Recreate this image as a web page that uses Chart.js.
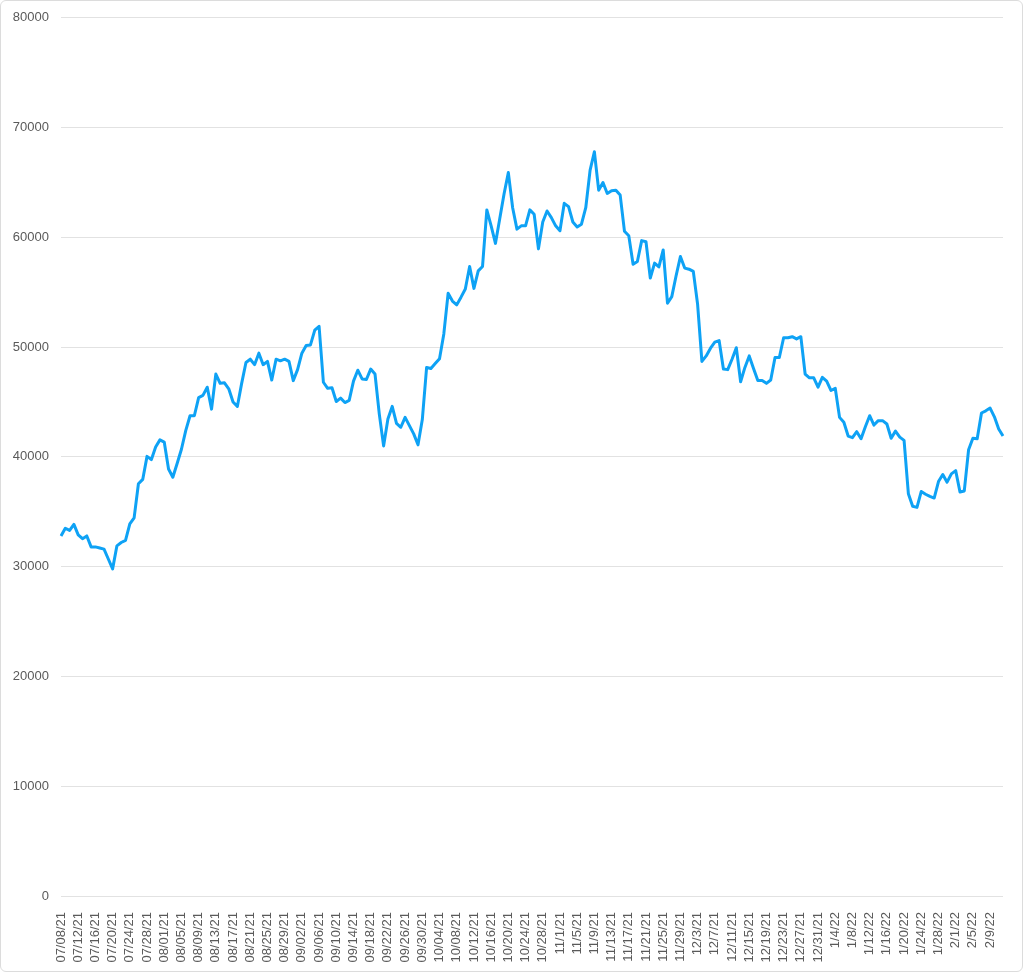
<!DOCTYPE html>
<html>
<head>
<meta charset="utf-8">
<script src="https://cdn.jsdelivr.net/npm/chart.js@4"></script>
<style>
  html, body { margin: 0; padding: 0; background: #fff; }
  #frame {
    position: absolute; left: 0; top: 0;
    width: 1023px; height: 972px;
    box-sizing: border-box;
    border: 1px solid #dcdcdc;
    border-radius: 6px;
    overflow: hidden;
  }
  #wrap { position: relative; width: 1021px; height: 973px; margin-top: -3px; }
</style>
</head>
<body>
<div id="frame"><div id="wrap"><canvas id="chart"></canvas></div></div>
<script>
// daily dates, grouped by month
const julDates = ['07/08/21','07/09/21','07/10/21','07/11/21','07/12/21','07/13/21','07/14/21','07/15/21','07/16/21','07/17/21','07/18/21','07/19/21','07/20/21','07/21/21','07/22/21','07/23/21','07/24/21','07/25/21','07/26/21','07/27/21','07/28/21','07/29/21','07/30/21','07/31/21'];
const augDates = ['08/01/21','08/02/21','08/03/21','08/04/21','08/05/21','08/06/21','08/07/21','08/08/21','08/09/21','08/10/21','08/11/21','08/12/21','08/13/21','08/14/21','08/15/21','08/16/21','08/17/21','08/18/21','08/19/21','08/20/21','08/21/21','08/22/21','08/23/21','08/24/21','08/25/21','08/26/21','08/27/21','08/28/21','08/29/21','08/30/21','08/31/21'];
const sepDates = ['09/01/21','09/02/21','09/03/21','09/04/21','09/05/21','09/06/21','09/07/21','09/08/21','09/09/21','09/10/21','09/11/21','09/12/21','09/13/21','09/14/21','09/15/21','09/16/21','09/17/21','09/18/21','09/19/21','09/20/21','09/21/21','09/22/21','09/23/21','09/24/21','09/25/21','09/26/21','09/27/21','09/28/21','09/29/21','09/30/21'];
const octDates = ['10/01/21','10/02/21','10/03/21','10/04/21','10/05/21','10/06/21','10/07/21','10/08/21','10/09/21','10/10/21','10/11/21','10/12/21','10/13/21','10/14/21','10/15/21','10/16/21','10/17/21','10/18/21','10/19/21','10/20/21','10/21/21','10/22/21','10/23/21','10/24/21','10/25/21','10/26/21','10/27/21','10/28/21','10/29/21','10/30/21','10/31/21'];
const novDates = ['11/1/21','11/2/21','11/3/21','11/4/21','11/5/21','11/6/21','11/7/21','11/8/21','11/9/21','11/10/21','11/11/21','11/12/21','11/13/21','11/14/21','11/15/21','11/16/21','11/17/21','11/18/21','11/19/21','11/20/21','11/21/21','11/22/21','11/23/21','11/24/21','11/25/21','11/26/21','11/27/21','11/28/21','11/29/21','11/30/21'];
const decDates = ['12/1/21','12/2/21','12/3/21','12/4/21','12/5/21','12/6/21','12/7/21','12/8/21','12/9/21','12/10/21','12/11/21','12/12/21','12/13/21','12/14/21','12/15/21','12/16/21','12/17/21','12/18/21','12/19/21','12/20/21','12/21/21','12/22/21','12/23/21','12/24/21','12/25/21','12/26/21','12/27/21','12/28/21','12/29/21','12/30/21','12/31/21'];
const janDates = ['1/1/22','1/2/22','1/3/22','1/4/22','1/5/22','1/6/22','1/7/22','1/8/22','1/9/22','1/10/22','1/11/22','1/12/22','1/13/22','1/14/22','1/15/22','1/16/22','1/17/22','1/18/22','1/19/22','1/20/22','1/21/22','1/22/22','1/23/22','1/24/22','1/25/22','1/26/22','1/27/22','1/28/22','1/29/22','1/30/22','1/31/22'];
const febDates = ['2/1/22','2/2/22','2/3/22','2/4/22','2/5/22','2/6/22','2/7/22','2/8/22','2/9/22','2/10/22','2/11/22','2/12/22'];

// values
const julValues = [32800,33500,33300,33850,32900,32550,32800,31800,31800,31700,31600,30700,29800,31900,32200,32400,33900,34450,37550,37950,40050,39750,40900,41550];
const augValues = [41350,38900,38150,39400,40700,42400,43750,43750,45400,45600,46350,44350,47550,46700,46750,46200,45000,44600,46700,48600,48900,48400,49450,48400,48700,47000,48900,48750,48900,48700,46950];
const sepValues = [47950,49450,50150,50200,51550,51900,46800,46250,46300,45050,45350,44950,45150,46900,47900,47100,47050,48000,47550,43900,41000,43450,44600,43050,42700,43600,42850,42100,41100,43400];
const octValues = [48150,48050,48500,48950,51200,54900,54200,53850,54550,55300,57350,55350,56950,57350,62500,61050,59450,61700,63950,65900,62700,60750,61050,61050,62500,62100,58950,61400,62400,61800,61050];
const novValues = [60600,63100,62800,61400,60950,61200,62700,66100,67800,64300,65000,64000,64250,64300,63850,60550,60150,57550,57800,59700,59600,56300,57650,57300,58850,54000,54600,56500,58250,57200];
const decValues = [57100,56900,53900,48700,49200,49900,50450,50600,48000,47950,48900,49950,46850,48150,49200,48050,46950,46950,46700,47000,49050,49050,50850,50850,50950,50750,50950,47550,47200,47200,46350];
const janValues = [47250,46900,46050,46250,43600,43150,41900,41750,42300,41650,42750,43750,42900,43300,43300,43000,41700,42350,41800,41500,36650,35500,35400,36850,36600,36400,36250,37750,38400,37700,38450];
const febValues = [38750,36800,36900,40650,41700,41650,44000,44200,44450,43650,42550,41900];

const yTicks = [0, 10000, 20000, 30000, 40000, 50000, 60000, 70000, 80000];
const labelEvery = 4;

const labels = [].concat(julDates, augDates, sepDates, octDates, novDates, decDates, janDates, febDates);
const values = [].concat(julValues, augValues, sepValues, octValues, novValues, decValues, janValues, febValues);

Chart.defaults.font.family = '"Liberation Sans", Arial, sans-serif';
Chart.defaults.font.size = 13;
Chart.defaults.color = '#5a5a5a';

new Chart(document.getElementById('chart'), {
  type: 'line',
  data: {
    labels: labels,
    datasets: [{
      data: values,
      borderColor: '#0ea2f5',
      borderWidth: 3,
      pointRadius: 0,
      tension: 0,
      borderJoinStyle: 'round',
      fill: false
    }]
  },
  options: {
    responsive: true,
    maintainAspectRatio: false,
    animation: false,
    layout: { padding: { top: 13, right: 19, left: 0, bottom: 0 } },
    plugins: { legend: { display: false }, tooltip: { enabled: false } },
    scales: {
      x: {
        offset: false,
        grid: { display: false },
        border: { display: false },
        ticks: {
          autoSkip: false,
          minRotation: 90,
          maxRotation: 90,
          padding: 8,
          font: { size: 13 },
          callback: (v, i) => (i % labelEvery === 0 ? labels[i] : null)
        },
        afterFit: (s) => { s.height = 75; }
      },
      y: {
        min: yTicks[0],
        max: yTicks[yTicks.length - 1],
        grid: { color: '#e2e2e2', lineWidth: 1, drawTicks: false },
        border: { display: false },
        afterBuildTicks: (s) => { s.ticks = yTicks.map(v => ({ value: v })); },
        ticks: {
          padding: 12,
          callback: (v) => String(v)
        },
        afterFit: (s) => { s.width = 60; }
      }
    }
  }
});
</script>
</body>
</html>
